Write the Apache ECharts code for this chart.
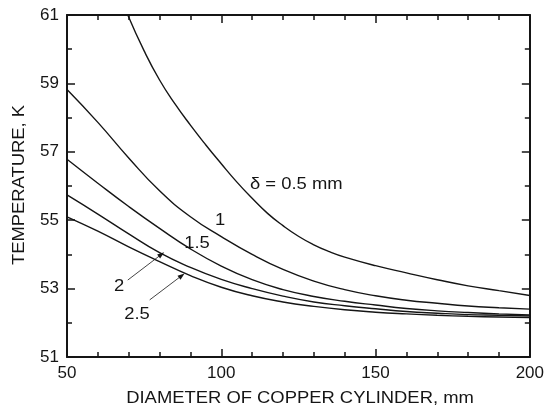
<!DOCTYPE html>
<html>
<head>
<meta charset="utf-8">
<script src="https://cdn.jsdelivr.net/npm/echarts@6/dist/echarts.min.js"></script>
<style>html,body{margin:0;padding:0;background:#fff;}#c{width:547px;height:414px;}</style>
</head>
<body>
<div id="c"></div>
<script>
// Diameter of copper cylinder (mm) and temperature (K) per wall thickness δ
const d05 = [69.7, 75, 80, 85, 90, 95, 100, 105, 110, 115, 120, 125, 130, 135, 140, 150, 160, 170, 180, 190, 200];
const t05 = [61.0, 59.95, 59.1, 58.4, 57.78, 57.2, 56.65, 56.12, 55.64, 55.2, 54.84, 54.53, 54.28, 54.08, 53.92, 53.67, 53.46, 53.26, 53.08, 52.94, 52.8];
const dAll = [50, 60, 70, 80, 90, 100, 110, 120, 130, 140, 150, 160, 170, 180, 190, 200];
const t1  = [58.82, 57.86, 56.82, 55.86, 55.1, 54.52, 54.0, 53.56, 53.22, 52.97, 52.79, 52.66, 52.57, 52.49, 52.44, 52.4];
const t15 = [56.78, 56.08, 55.4, 54.76, 54.16, 53.66, 53.26, 52.97, 52.77, 52.63, 52.52, 52.42, 52.35, 52.3, 52.26, 52.23];
const t2  = [55.74, 55.18, 54.6, 54.05, 53.62, 53.27, 53.0, 52.78, 52.61, 52.5, 52.41, 52.33, 52.28, 52.24, 52.22, 52.2];
const t25 = [55.1, 54.68, 54.22, 53.79, 53.38, 53.04, 52.79, 52.61, 52.48, 52.38, 52.31, 52.26, 52.22, 52.19, 52.17, 52.15];
const xTicks = [50, 100, 150, 200];
const yTicks = [51, 53, 55, 57, 59, 61];
// leader arrows: [start, end] in data units
const arrow2  = [[69.7, 53.25], [80.6, 54.0]];
const arrow25 = [[76.8, 52.67], [87.2, 53.38]];

const FONT = '"Liberation Sans", Arial, Helvetica, sans-serif';
const INK = '#151515';
const zip = (xs, ys) => xs.map((x, i) => [x, ys[i]]);

const chart = echarts.init(document.getElementById('c'), null, {renderer: 'canvas'});

function axisX(pos, showLabels) {
  return {
    type: 'value', position: pos, min: xTicks[0], max: xTicks[xTicks.length - 1], interval: 50,
    axisLine: {show: true, onZero: false, lineStyle: {color: INK, width: 2}},
    axisTick: {show: true, inside: true, length: 8, lineStyle: {color: INK, width: 1.5}},
    minorTick: {show: true, splitNumber: 5, length: 5, lineStyle: {color: INK, width: 1.5}},
    splitLine: {show: false},
    axisLabel: {show: showLabels, color: INK, fontFamily: FONT, fontSize: 17, margin: 8},
  };
}
function axisY(pos, showLabels) {
  return {
    type: 'value', position: pos, min: yTicks[0], max: yTicks[yTicks.length - 1], interval: 2,
    axisLine: {show: true, onZero: false, lineStyle: {color: INK, width: 2}},
    axisTick: {show: true, inside: true, length: 8, lineStyle: {color: INK, width: 1.5}},
    minorTick: {show: true, splitNumber: 2, length: 5, lineStyle: {color: INK, width: 1.5}},
    splitLine: {show: false},
    axisLabel: {show: showLabels, color: INK, fontFamily: FONT, fontSize: 17, margin: 8},
  };
}

function curve(name, data, extra) {
  return Object.assign({
    name, type: 'line', data, smooth: 0.5, symbol: 'none', clip: true,
    lineStyle: {color: INK, width: 1.4}, silent: true,
  }, extra || {});
}
function arrowMark(a) {
  return {
    silent: true, symbol: ['none', 'triangle'], symbolSize: [5, 7],
    lineStyle: {color: INK, width: 0.8, type: 'solid'},
    label: {show: false},
    data: [[{coord: a[0]}, {coord: a[1]}]],
  };
}

function txt(text, x, y, align, opts) {
  return Object.assign({
    type: 'text', x, y, scaleX: 1.15, silent: true,
    style: {text, fill: INK, font: '16px ' + FONT, textAlign: align, textVerticalAlign: 'middle', verticalAlign: 'middle'},
  }, opts || {});
}

chart.setOption({
  animation: false,
  backgroundColor: '#fff',
  grid: {left: 67, right: 15, top: 15, bottom: 57, containLabel: false},
  xAxis: [axisX('bottom', true), axisX('top', false)],
  yAxis: [axisY('left', true), axisY('right', false)],
  series: [
    curve('0.5', zip(d05, t05)),
    curve('1', zip(dAll, t1)),
    curve('1.5', zip(dAll, t15)),
    curve('2', zip(dAll, t2), {markLine: arrowMark(arrow2)}),
    curve('2.5', zip(dAll, t25), {markLine: arrowMark(arrow25)}),
  ],
  graphic: [
    txt('DIAMETER OF COPPER CYLINDER, mm', 300, 399, 'center'),
    txt('TEMPERATURE, K', 20, 185, 'center', {rotation: Math.PI / 2}),
    txt('\u03b4 = 0.5 mm', 250, 185, 'left'),
    txt('1', 220, 221, 'center'),
    txt('1.5', 197, 244, 'center'),
    txt('2', 119, 287, 'center'),
    txt('2.5', 137, 315, 'center'),
  ],
});
</script>
</body>
</html>
